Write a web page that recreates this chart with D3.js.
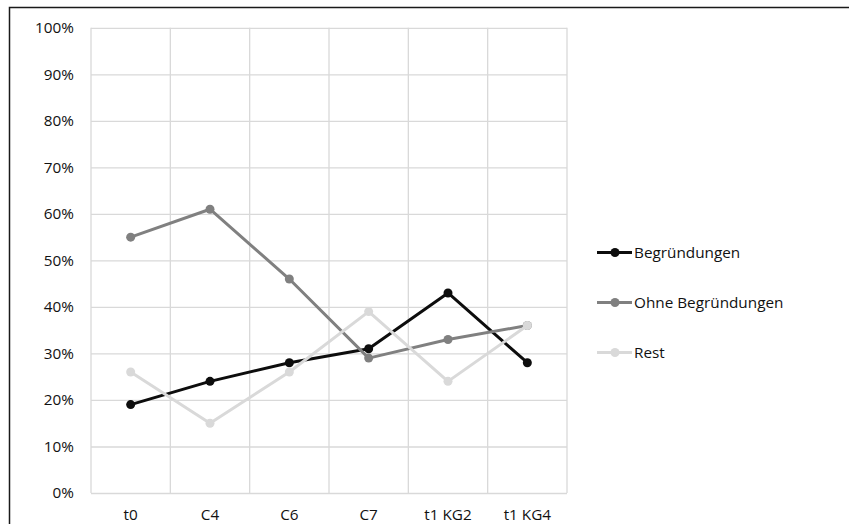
<!DOCTYPE html>
<html>
<head>
<meta charset="utf-8">
<script src="https://cdn.jsdelivr.net/npm/d3@7"></script>
<style>
  html, body { margin: 0; padding: 0; background: #fff; }
  svg { display: block; font-family: "Open Sans", sans-serif; }
</style>
</head>
<body>
<svg id="chart" width="849" height="524"></svg>
<script>
// Categories (measurement points) and shares per series, in percent
const categories = ["t0", "C4", "C6", "C7", "t1 KG2", "t1 KG4"];
const begruendungen = [19, 24, 28, 31, 43, 28];
const ohneBegruendungen = [55, 61, 46, 29, 33, 36];
const rest = [26, 15, 26, 39, 24, 36];
const seriesNames = ["Begründungen", "Ohne Begründungen", "Rest"];
const yTicks = [0, 10, 20, 30, 40, 50, 60, 70, 80, 90, 100];

const series = [
  { name: seriesNames[0], values: begruendungen, color: "#0d0d0d" },
  { name: seriesNames[1], values: ohneBegruendungen, color: "#808080" },
  { name: seriesNames[2], values: rest, color: "#d9d9d9" }
];

const FONT = "15.3px";
const TEXT = "#111";

const svg = d3.select("#chart");

// outer frame
svg.append("rect")
  .attr("x", 9.5).attr("y", 7.5)
  .attr("width", 900).attr("height", 600)
  .attr("fill", "none").attr("stroke", "#1a1a1a").attr("stroke-width", 1.5);

const plot = { left: 91, right: 567, top: 27.8, bottom: 493 };

const x = d3.scaleBand().domain(categories).range([plot.left, plot.right]);
const y = d3.scaleLinear().domain([0, 100]).range([plot.bottom, plot.top]);

const g = svg.append("g");

// horizontal gridlines + y labels
const yAxis = d3.axisLeft(y).tickValues(yTicks).tickFormat(d => d + "%")
  .tickSize(-(plot.right - plot.left)).tickPadding(17);
g.append("g").attr("transform", `translate(${plot.left},0)`).call(yAxis)
  .attr("font-family", null).attr("font-size", FONT)
  .call(s => s.select(".domain").remove())
  .call(s => s.selectAll("line").attr("stroke", "#d9d9d9").attr("stroke-width", 1.3))
  .call(s => s.selectAll("text").attr("fill", TEXT));

// vertical gridlines at category boundaries
const bounds = categories.map(c => x(c)).concat([x(categories[categories.length - 1]) + x.bandwidth()]);
g.append("g").selectAll("line").data(bounds).join("line")
  .attr("x1", d => d).attr("x2", d => d)
  .attr("y1", plot.top).attr("y2", plot.bottom)
  .attr("stroke", "#d9d9d9").attr("stroke-width", 1.3);

// x labels
const xAxis = d3.axisBottom(x).tickSize(0).tickPadding(16);
g.append("g").attr("transform", `translate(0,${plot.bottom})`).call(xAxis)
  .attr("font-family", null).attr("font-size", FONT)
  .call(s => s.select(".domain").remove())
  .call(s => s.selectAll("text").attr("fill", TEXT));

const cx = c => x(c) + x.bandwidth() / 2;
const line = d3.line().x((d, i) => cx(categories[i])).y(d => y(d));

// lines then markers, drawn in series order
series.forEach(s => {
  const sg = g.append("g");
  sg.append("path").datum(s.values)
    .attr("d", line).attr("fill", "none")
    .attr("stroke", s.color).attr("stroke-width", 3).attr("stroke-linejoin", "round");
  sg.selectAll("circle").data(s.values).join("circle")
    .attr("cx", (d, i) => cx(categories[i])).attr("cy", d => y(d))
    .attr("r", 4.5).attr("fill", s.color);
});

// legend
const legend = svg.append("g").attr("font-size", FONT);
series.forEach((s, i) => {
  const ly = 252.5 + i * 50;
  legend.append("line").attr("x1", 597).attr("x2", 632).attr("y1", ly).attr("y2", ly)
    .attr("stroke", s.color).attr("stroke-width", 3);
  legend.append("circle").attr("cx", 615).attr("cy", ly).attr("r", 4.5).attr("fill", s.color);
  legend.append("text").attr("x", 634).attr("y", ly).attr("dy", "0.35em")
    .attr("fill", TEXT).text(s.name);
});
</script>
</body>
</html>
